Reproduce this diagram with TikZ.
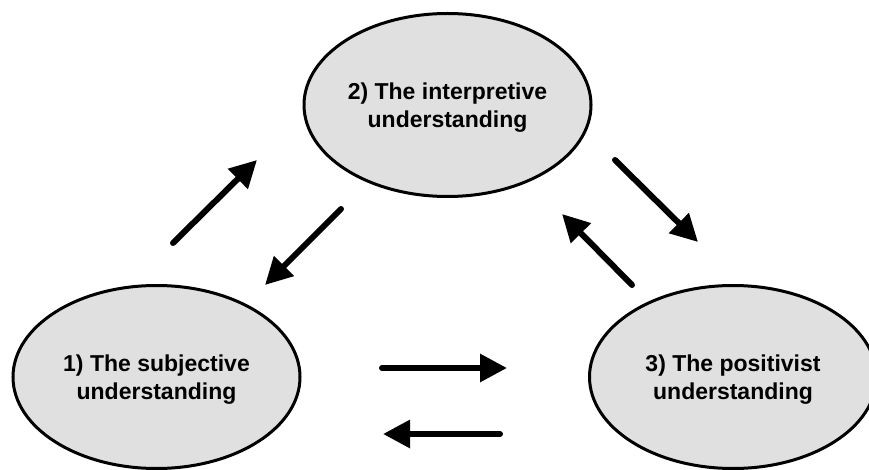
\documentclass[tikz,border=0pt]{standalone}
\usepackage{fontspec}
\setmainfont{Liberation Sans}
\usetikzlibrary{arrows.meta,shapes.geometric}
\begin{document}
\begin{tikzpicture}[x=1pt,y=-1pt,
  stage/.style={ellipse,draw=black,line width=3pt,fill=black!12,
    minimum width=287pt,minimum height=183pt,inner sep=0pt,
    text depth=0pt,
    align=center,font=\bfseries\fontsize{23}{27.5}\selectfont},
  flow/.style={line width=6pt,line cap=round,
    -{Triangle[length=27pt,width=27pt,line cap=butt]}}]
  \useasboundingbox (0,0) rectangle (869,470);
  % the three stages
  \node[stage] (interp) at (447.5,105) {2) The interpretive\\understanding};
  \node[stage] (subj)   at (156.5,377) {1) The subjective\\understanding};
  \node[stage] (posit)  at (733,377) {3) The positivist\\understanding};
  % arrow end points
  \coordinate (a1s) at (173,243); \coordinate (a1e) at (257,160);
  \coordinate (a2s) at (341,209); \coordinate (a2e) at (265,285);
  \coordinate (a3s) at (615,160); \coordinate (a3e) at (698,242);
  \coordinate (a4s) at (632,285); \coordinate (a4e) at (562,214);
  \coordinate (a5s) at (382,368); \coordinate (a5e) at (507,368);
  \coordinate (a6s) at (500,434); \coordinate (a6e) at (383,434);
  % transitions between stages
  \draw[flow] (a1s) -- (a1e);
  \draw[flow] (a2s) -- (a2e);
  \draw[flow] (a3s) -- (a3e);
  \draw[flow] (a4s) -- (a4e);
  \draw[flow] (a5s) -- (a5e);
  \draw[flow] (a6s) -- (a6e);
\end{tikzpicture}
\end{document}
